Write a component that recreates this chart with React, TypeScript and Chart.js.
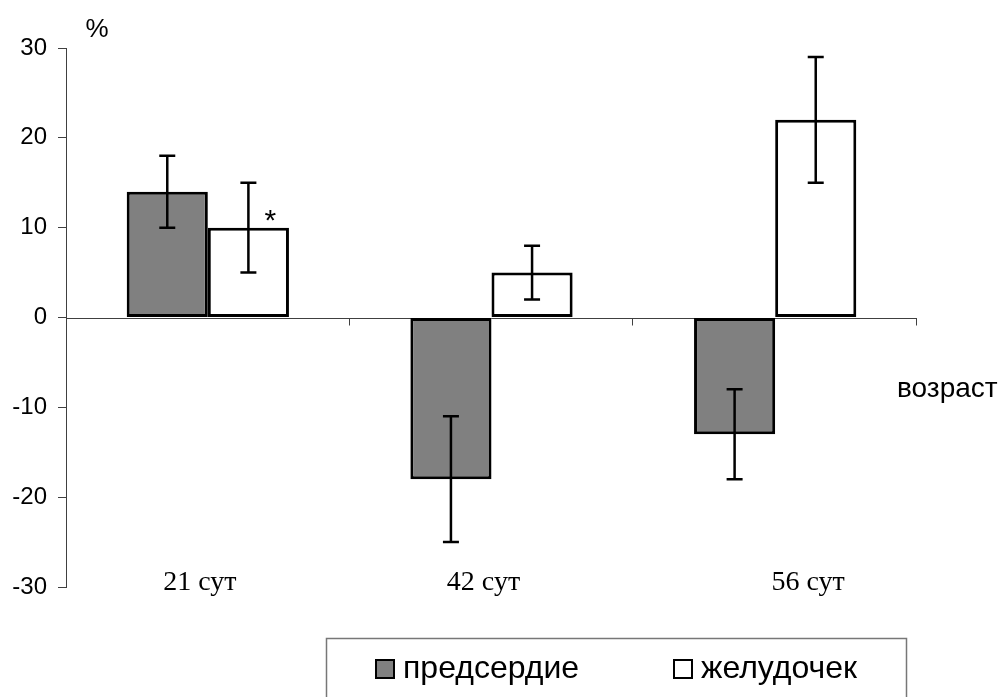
import React, { useEffect, useRef } from "react";
import { Chart, registerables } from "chart.js";

Chart.register(...registerables);

const categories = ["21 сут", "42 сут", "56 сут"];
const seriesNames = ["предсердие", "желудочек"];
const atriumValues = [14, -18, -13];
const atriumLow = [10, -25, -18];
const atriumHigh = [18, -11, -8];
const ventricleValues = [10, 5, 22];
const ventricleLow = [5, 2, 15];
const ventricleHigh = [15, 8, 29];
const ventricleMarks = ["*", "", ""];
const yTicks = [-30, -20, -10, 0, 10, 20, 30];
const yUnit = "%";
const xTitle = "возраст";

const SANS = "'Liberation Sans', Arial, sans-serif";
const SERIF = "'Liberation Serif', 'Times New Roman', serif";

const errorLows = [atriumLow, ventricleLow];
const errorHighs = [atriumHigh, ventricleHigh];
const marks = [["", "", ""], ventricleMarks];
// label placement quirks of the original layout (pixels)
const labelShift = [-8, -8, 33];

const customPlugin = {
  id: "custom",
  beforeDatasetsDraw(chart: any) {
    const { ctx, chartArea } = chart;
    const y = chart.scales.y;
    const zy = Math.round(y.getPixelForValue(0)) + 0.5;
    ctx.save();
    ctx.strokeStyle = "#404040";
    ctx.lineWidth = 1;
    ctx.beginPath();
    ctx.moveTo(chartArea.left, zy);
    ctx.lineTo(chartArea.right, zy);
    const n = categories.length;
    const w = (chartArea.right - chartArea.left) / n;
    for (let i = 1; i <= n; i++) {
      const bx = Math.round(chartArea.left + i * w) - 0.5;
      ctx.moveTo(bx, zy);
      ctx.lineTo(bx, zy + 7);
    }
    ctx.stroke();
    ctx.restore();
  },
  afterDatasetsDraw(chart: any) {
    const { ctx } = chart;
    const y = chart.scales.y;
    ctx.save();
    ctx.strokeStyle = "#000";
    ctx.lineWidth = 2.5;
    chart.data.datasets.forEach((ds: any, d: number) => {
      const meta = chart.getDatasetMeta(d);
      meta.data.forEach((el: any, i: number) => {
        const lo = y.getPixelForValue(errorLows[d][i]);
        const hi = y.getPixelForValue(errorHighs[d][i]);
        ctx.beginPath();
        ctx.moveTo(el.x, lo);
        ctx.lineTo(el.x, hi);
        ctx.moveTo(el.x - 8, lo);
        ctx.lineTo(el.x + 8, lo);
        ctx.moveTo(el.x - 8, hi);
        ctx.lineTo(el.x + 8, hi);
        ctx.stroke();
        const m = marks[d][i];
        if (m) {
          ctx.fillStyle = "#000";
          ctx.font = `30px ${SANS}`;
          ctx.textAlign = "center";
          ctx.textBaseline = "middle";
          ctx.fillText(m, el.x + 22, y.getPixelForValue(ds.data[i]) - 6);
        }
      });
    });
    ctx.restore();
  },
  afterDraw(chart: any) {
    const { ctx, chartArea } = chart;
    const x = chart.scales.x;
    const y = chart.scales.y;
    ctx.save();
    ctx.fillStyle = "#000";
    // category labels near bottom
    ctx.font = `28px ${SERIF}`;
    ctx.textAlign = "center";
    ctx.textBaseline = "middle";
    categories.forEach((c, i) => {
      ctx.fillText(c, x.getPixelForValue(i) + labelShift[i], chartArea.bottom - 4);
    });
    // unit
    ctx.font = `26px ${SANS}`;
    ctx.fillText(yUnit, chartArea.left + 31, chartArea.top - 18);
    // x title
    ctx.textAlign = "left";
    ctx.font = `28px ${SANS}`;
    ctx.fillText(xTitle, chartArea.right - 20, y.getPixelForValue(0) + 72);
    // legend box
    ctx.strokeStyle = "#777";
    ctx.lineWidth = 1.5;
    ctx.strokeRect(326.5, 638.5, 580, 70);
    const items = [
      { x: 376, label: chart.data.datasets[0].label, color: chart.data.datasets[0].backgroundColor },
      { x: 674, label: chart.data.datasets[1].label, color: chart.data.datasets[1].backgroundColor },
    ];
    items.forEach((it) => {
      ctx.fillStyle = it.color;
      ctx.fillRect(it.x, 660, 18, 18);
      ctx.strokeStyle = "#000";
      ctx.lineWidth = 2;
      ctx.strokeRect(it.x, 660, 18, 18);
      ctx.fillStyle = "#000";
      ctx.font = `32px ${SANS}`;
      ctx.textAlign = "left";
      ctx.textBaseline = "middle";
      ctx.fillText(it.label, it.x + 27, 669);
    });
    ctx.restore();
  },
};

export default function App() {
  const ref = useRef<HTMLCanvasElement>(null);
  useEffect(() => {
    if (!ref.current) return;
    const chart = new Chart(ref.current, {
      type: "bar",
      data: {
        labels: categories,
        datasets: [
          {
            label: seriesNames[0],
            data: atriumValues,
            backgroundColor: "#808080",
            borderColor: "#000",
            borderWidth: 3,
            borderSkipped: false,
          },
          {
            label: seriesNames[1],
            data: ventricleValues,
            backgroundColor: "#ffffff",
            borderColor: "#000",
            borderWidth: 3,
            borderSkipped: false,
          },
        ],
      },
      options: {
        responsive: false,
        animation: false,
        layout: { padding: { left: 0, top: 48, right: 83, bottom: 110 } },
        categoryPercentage: 0.572,
        barPercentage: 1.0,
        plugins: {
          legend: { display: false },
          tooltip: { enabled: false },
          title: { display: false },
        },
        scales: {
          x: {
            type: "category",
            display: false,
            offset: true,
          },
          y: {
            min: -30,
            max: 30,
            afterFit(scale: any) {
              scale.width = 66;
            },
            afterBuildTicks(scale: any) {
              scale.ticks = yTicks.map((v) => ({ value: v }));
            },
            ticks: {
              color: "#000",
              font: { family: SANS, size: 24 },
              padding: 11,
            },
            grid: {
              display: true,
              drawOnChartArea: false,
              drawTicks: true,
              tickLength: 8,
              color: "#404040",
              lineWidth: 1,
            },
            border: { display: true, color: "#404040", width: 1 },
          },
        },
      } as any,
      plugins: [customPlugin],
    });
    return () => chart.destroy();
  }, []);
  return (
    <div style={{ position: "fixed", left: 0, top: 0, width: 1000, height: 697, background: "#fff" }}>
      <canvas ref={ref} width={1000} height={697} style={{ display: "block" }} />
    </div>
  );
}
